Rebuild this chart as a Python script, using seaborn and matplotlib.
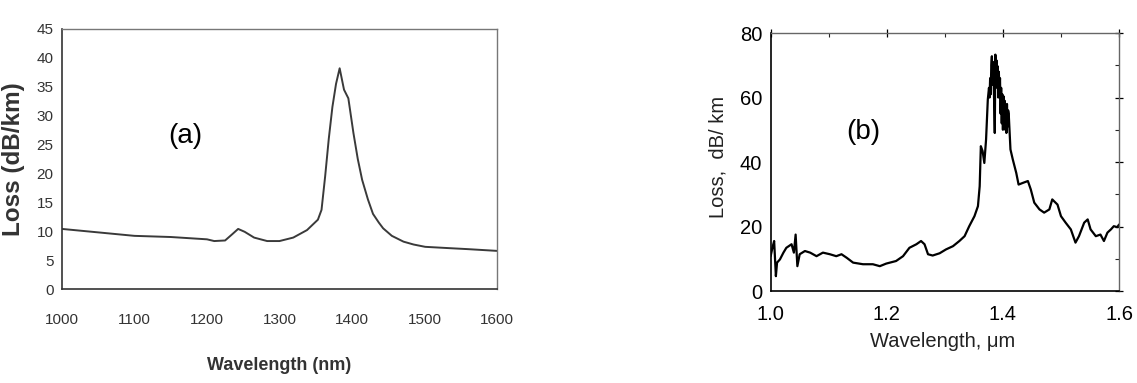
import numpy as np
import pandas as pd
import matplotlib
matplotlib.use('Agg')
import matplotlib.pyplot as plt
from matplotlib.ticker import MultipleLocator
import seaborn as sns

# panel (a): loss spectrum, wavelength in nm
wl_a = [1000, 1050, 1100, 1150, 1200, 1210, 1225, 1235, 1243, 1252, 1265, 1283,
        1300, 1319, 1338, 1353, 1358, 1363, 1368, 1373, 1378, 1383, 1389, 1395,
        1402, 1408, 1414, 1422, 1429, 1437, 1443, 1455, 1471, 1485, 1501, 1530,
        1560, 1600]
loss_a = [10.4, 9.8, 9.2, 9.0, 8.6, 8.3, 8.4, 9.5, 10.4, 9.9, 8.9, 8.3,
          8.3, 8.9, 10.2, 12.0, 13.7, 19.5, 26.0, 31.5, 35.5, 38.2, 34.5, 33.0,
          27.0, 22.5, 18.9, 15.5, 13.0, 11.5, 10.5, 9.2, 8.2, 7.7, 7.3, 7.1,
          6.9, 6.6]

# panel (b): loss spectrum, wavelength in um
wl_b = [1.000, 1.003, 1.006, 1.009, 1.011, 1.016, 1.022, 1.027, 1.036, 1.040,
        1.043, 1.046, 1.050, 1.059, 1.068, 1.079, 1.090, 1.102, 1.113, 1.122,
        1.131, 1.142, 1.159, 1.176, 1.188, 1.199, 1.216, 1.228, 1.239, 1.251,
        1.259, 1.265, 1.271, 1.279, 1.291, 1.302, 1.314, 1.325, 1.334, 1.342,
        1.351, 1.357, 1.360, 1.362, 1.365, 1.368, 1.371, 1.374,
        1.376, 1.377, 1.378, 1.379, 1.380, 1.381, 1.382, 1.383, 1.384, 1.385,
        1.386, 1.387, 1.388, 1.389, 1.390, 1.391, 1.392, 1.393, 1.394, 1.395,
        1.396, 1.397, 1.398, 1.399, 1.400, 1.401, 1.402, 1.403, 1.404, 1.405,
        1.406, 1.407, 1.408, 1.409, 1.410, 1.413, 1.417,
        1.423, 1.427, 1.434, 1.443, 1.448, 1.454, 1.463, 1.471, 1.480, 1.485,
        1.494, 1.500, 1.508, 1.517, 1.525, 1.531, 1.540, 1.546, 1.551, 1.560,
        1.568, 1.574, 1.580, 1.586, 1.591, 1.597, 1.600]
loss_b = [10.8, 13.4, 15.5, 4.6, 8.8, 9.8, 11.9, 13.4, 14.5, 11.9,
          17.5, 7.7, 11.4, 12.4, 11.9, 10.8, 11.9, 11.4, 10.8, 11.4,
          10.3, 8.8, 8.3, 8.3, 7.7, 8.5, 9.3, 10.8, 13.4, 14.5,
          15.5, 14.5, 11.4, 11.0, 11.7, 12.9, 13.9, 15.5, 17.0, 20.1,
          23.2, 26.3, 32.5, 44.9, 43.4, 39.7, 47.0, 59.4,
          63.0, 60.0, 66.0, 61.0, 70.0, 72.8, 64.0, 71.0, 65.5, 58.0,
          49.0, 73.3, 66.0, 71.5, 63.0, 69.7, 60.0, 68.0, 62.0, 66.0,
          55.0, 63.0, 52.0, 61.0, 50.0, 60.4, 52.0, 59.0, 50.0, 57.0,
          49.0, 58.0, 51.0, 56.0, 55.0, 43.9, 40.8,
          36.6, 33.0, 33.5, 34.1, 31.5, 27.4, 25.3, 24.3, 25.3, 28.4,
          26.8, 23.2, 21.2, 19.1, 15.0, 17.0, 21.2, 22.2, 19.1, 17.0,
          17.5, 15.5, 18.1, 19.1, 20.1, 19.8, 20.6]

df_a = pd.DataFrame({'wl': wl_a, 'loss': loss_a})
df_b = pd.DataFrame({'wl': wl_b, 'loss': loss_b})

sns.set_theme(style='white')
plt.rcParams['font.family'] = ['Liberation Sans', 'DejaVu Sans']

fig = plt.figure(figsize=(11.37, 3.83), dpi=100)
fig.patch.set_facecolor('white')

# ---- panel (a)
ax1 = fig.add_axes([0.0545, 0.2454, 0.3826, 0.6789])
sns.lineplot(data=df_a, x='wl', y='loss', ax=ax1, color='#3a3a3a',
             linewidth=1.4, estimator=None, sort=False)
ax1.set_xlim(1000, 1600)
ax1.set_ylim(0, 45)
ax1.xaxis.set_major_locator(MultipleLocator(100))
ax1.yaxis.set_major_locator(MultipleLocator(5))
ax1.tick_params(axis='both', direction='in', length=4, width=0.8,
                colors='#555555', labelcolor='#333333', labelsize=11)
ax1.tick_params(axis='x', pad=17)
ax1.tick_params(axis='y', pad=6)
for side in ['left', 'bottom']:
    ax1.spines[side].set_color('#333333')
    ax1.spines[side].set_linewidth(1.2)
for side in ['top', 'right']:
    ax1.spines[side].set_color('#777777')
    ax1.spines[side].set_linewidth(1.0)
ax1.set_xlabel('Wavelength (nm)', fontsize=13, fontweight='bold', color='#333333')
ax1.set_ylabel('Loss (dB/km)', fontsize=17.5, fontweight='bold', color='#333333')
ax1.xaxis.set_label_coords(0.50, -0.26)
ax1.yaxis.set_label_coords(-0.085, 0.50)
ax1.text(0.283, 0.59, '(a)', transform=ax1.transAxes, fontsize=20,
         ha='center', va='center', color='black')

# ---- panel (b)
ax2 = fig.add_axes([0.6778, 0.2402, 0.3064, 0.6736])
sns.lineplot(data=df_b, x='wl', y='loss', ax=ax2, color='black',
             linewidth=1.6, estimator=None, sort=False)
ax2.set_xlim(1.0, 1.6)
ax2.set_ylim(0, 80)
ax2.xaxis.set_major_locator(MultipleLocator(0.2))
ax2.xaxis.set_minor_locator(MultipleLocator(0.1))
ax2.yaxis.set_major_locator(MultipleLocator(20))
ax2.yaxis.set_minor_locator(MultipleLocator(10))
ax2.xaxis.set_major_formatter(plt.FormatStrFormatter('%.1f'))
ax2.tick_params(which='major', direction='inout', length=6, width=0.9,
                labelsize=14.5, colors='black', top=True, right=True)
ax2.tick_params(which='minor', direction='in', length=3, width=0.8,
                top=True, right=True)
ax2.tick_params(axis='x', pad=7)
ax2.tick_params(axis='y', pad=3)
for side in ['left', 'bottom']:
    ax2.spines[side].set_color('black')
    ax2.spines[side].set_linewidth(1.2)
for side in ['top', 'right']:
    ax2.spines[side].set_color('#666666')
    ax2.spines[side].set_linewidth(1.0)
ax2.set_xlabel('Wavelength, \u03bcm', fontsize=14.5, color='#222222')
ax2.set_ylabel('Loss,  dB/ km', fontsize=14.5, color='#222222')
ax2.xaxis.set_label_coords(0.495, -0.16)
ax2.yaxis.set_label_coords(-0.125, 0.52)
ax2.text(0.265, 0.615, '(b)', transform=ax2.transAxes, fontsize=20,
         ha='center', va='center', color='black')

fig.savefig('out.png', dpi=100)
